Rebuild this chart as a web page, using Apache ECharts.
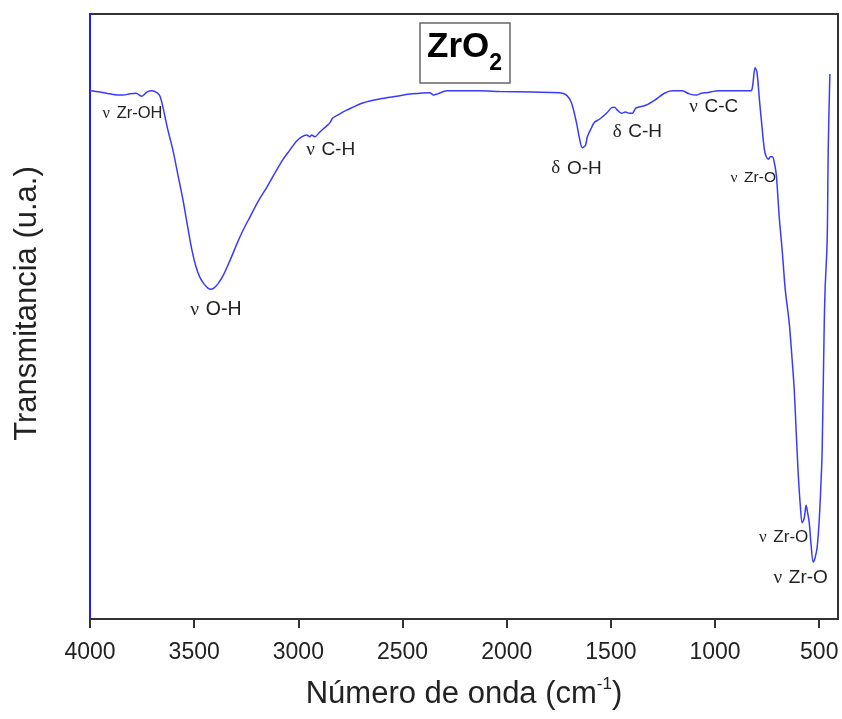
<!DOCTYPE html>
<html>
<head>
<meta charset="utf-8">
<script src="https://cdn.jsdelivr.net/npm/echarts@6/dist/echarts.min.js"></script>
<style>
html,body{margin:0;padding:0;background:#fff;}
#chart{width:842px;height:719px;}
</style>
</head>
<body>
<div id="chart"></div>
<script>
// Wavenumber (cm-1)
var wavenumber = [4000,3952,3904,3871,3842,3808,3779,3751,3727,3703,3679,3664,
3650,3626,3602,3578,3554,3530,3511,3492,3473,3453,3434,3420,
3406,3386,3362,3329,3295,3262,3233,3195,3151,3113,3075,3041,
3008,2984,2960,2945,2936,2921,2897,2864,2849,2835,2801,2768,
2691,2610,2528,2452,2370,2351,2332,2288,2130,
2034,1876,1747,1713,
1689,1665,1651,1637,1622,1613,1593,1579,1555,1521,1497,
1483,1469,1449,1430,1411,1397,1387,1378,1330,
1282,1243,1205,1157,1124,1090,1066,1042,980,
836,826,819,808,799,787,
778,763,754,744,735,725,716,706,692,678,
663,644,630,620,611,601,591,582,572,563,
558,548,539,529,520,510,500,491,486,476,
472,462,457,452,449];
// Transmittance (arbitrary units)
var transmittance = [87.3,87.1,86.8,86.6,86.6,86.8,86.9,86.4,87.1,87.3,87.0,86.4,
84.6,80.8,77.5,73.4,69.3,64.6,61.0,58.3,56.5,55.4,54.7,54.5,
54.7,55.4,56.7,59.2,62.0,64.5,66.4,68.9,71.4,73.7,75.9,77.5,
79.0,79.7,80.0,79.7,80.0,79.7,80.5,81.5,82.0,82.8,83.5,84.1,
85.3,85.95,86.4,86.8,87.0,86.6,86.8,87.3,87.3,
87.2,87.1,87.0,86.6,
85.3,82.0,79.5,77.9,78.3,79.7,81.2,82.1,82.6,83.6,84.5,
84.6,84.1,83.6,83.8,83.6,83.6,84.1,84.5,84.96,
85.95,86.9,87.3,87.3,86.8,86.6,86.9,87.0,87.3,
87.3,87.3,88.3,91.1,90.4,85.8,
82.5,77.5,76.4,76.0,76.4,76.4,75.5,73.4,66.4,61.0,
54.4,48.9,42.8,37.9,31.2,24.1,18.8,15.9,16.7,18.8,
18.0,15.9,12.2,9.4,10.1,11.9,16.4,23.0,27.9,48.9,
54.4,62.6,77.5,85.8,90.1];
// x tick values
var xTicks = [4000,3500,3000,2500,2000,1500,1000,500];
// Band annotations
var bandSymbols = ['ν','ν','ν','δ','δ','ν','ν','ν','ν'];
var bandNames = ['Zr-OH','O-H','C-H','O-H','C-H','C-C','Zr-O','Zr-O','Zr-O'];
var bandWn = [3796,3396,2845,1665,1373,1006,817,671,589];
var bandT = [83.6,51.1,77.5,74.5,80.5,84.6,72.9,13.5,6.8];
var bandSize = [16.5,19.5,19,19,19,19,15.5,17,19];

var seriesData = wavenumber.map(function(w,i){return [w, transmittance[i]];});
var markData = bandWn.map(function(w,i){
  return {
    coord:[w, bandT[i]],
    symbol:'circle', symbolSize:0,
    label:{show:true, position:'inside',
      formatter:'{g|'+bandSymbols[i]+'}  {t|'+bandNames[i]+'}',
      rich:{
        g:{fontFamily:'Liberation Serif', fontSize:bandSize[i], color:'#222'},
        t:{fontFamily:'Liberation Sans', fontSize:bandSize[i], color:'#222'}
      }}
  };
});

var chart = echarts.init(document.getElementById('chart'), null, {renderer:'canvas'});
chart.setOption({
  animation:false,
  backgroundColor:'#fff',
  title:{
    text:'{a|ZrO}{b|2}',
    left:420, top:30,
    borderColor:'#666', borderWidth:1.5,
    padding:[7,8,8,7],
    textStyle:{
      rich:{
        a:{fontFamily:'Liberation Sans', fontSize:35, fontWeight:'bold', color:'#000', lineHeight:38, padding:[0,0,10,0], verticalAlign:'bottom'},
        b:{fontFamily:'Liberation Sans', fontSize:23, fontWeight:'bold', color:'#000', lineHeight:24, verticalAlign:'bottom'}
      }
    }
  },
  grid:{left:90, right:4, top:14, bottom:100, show:true, borderColor:'#333', borderWidth:2, backgroundColor:'transparent'},
  xAxis:{
    type:'value', inverse:true, min:410, max:4000,
    name:'{a|Número de onda (cm}{s|-1}{a|)}',
    nameLocation:'middle', nameGap:57,
    nameTextStyle:{rich:{
      a:{fontFamily:'Liberation Sans', fontSize:31, color:'#222', lineHeight:34, verticalAlign:'bottom'},
      s:{fontFamily:'Liberation Sans', fontSize:17, color:'#222', lineHeight:18, verticalAlign:'top'}
    }},
    axisLine:{show:true, onZero:false, lineStyle:{color:'#333', width:2}},
    axisTick:{show:true, inside:false, length:9, lineStyle:{color:'#333', width:2}, customValues:xTicks},
    axisLabel:{show:true, margin:22, fontFamily:'Liberation Sans', fontSize:23, color:'#222', customValues:xTicks,
      formatter:function(v){return String(v);}},
    splitLine:{show:false}
  },
  yAxis:{
    type:'value', min:0, max:100,
    name:'Transmitancia (u.a.)',
    nameLocation:'middle', nameGap:47, nameRotate:90,
    nameTextStyle:{fontFamily:'Liberation Sans', fontSize:31, color:'#222', padding:[0,0,0,26]},
    axisLine:{show:true, onZero:false, lineStyle:{color:'#2020ff', width:2}},
    axisTick:{show:false},
    axisLabel:{show:false},
    splitLine:{show:false}
  },
  series:[{
    type:'line',
    data:seriesData,
    showSymbol:false,
    smooth:0.3,
    lineStyle:{color:'#3a3aff', width:1.5},
    markPoint:{data:markData, silent:true, animation:false}
  }]
});
</script>
</body>
</html>
